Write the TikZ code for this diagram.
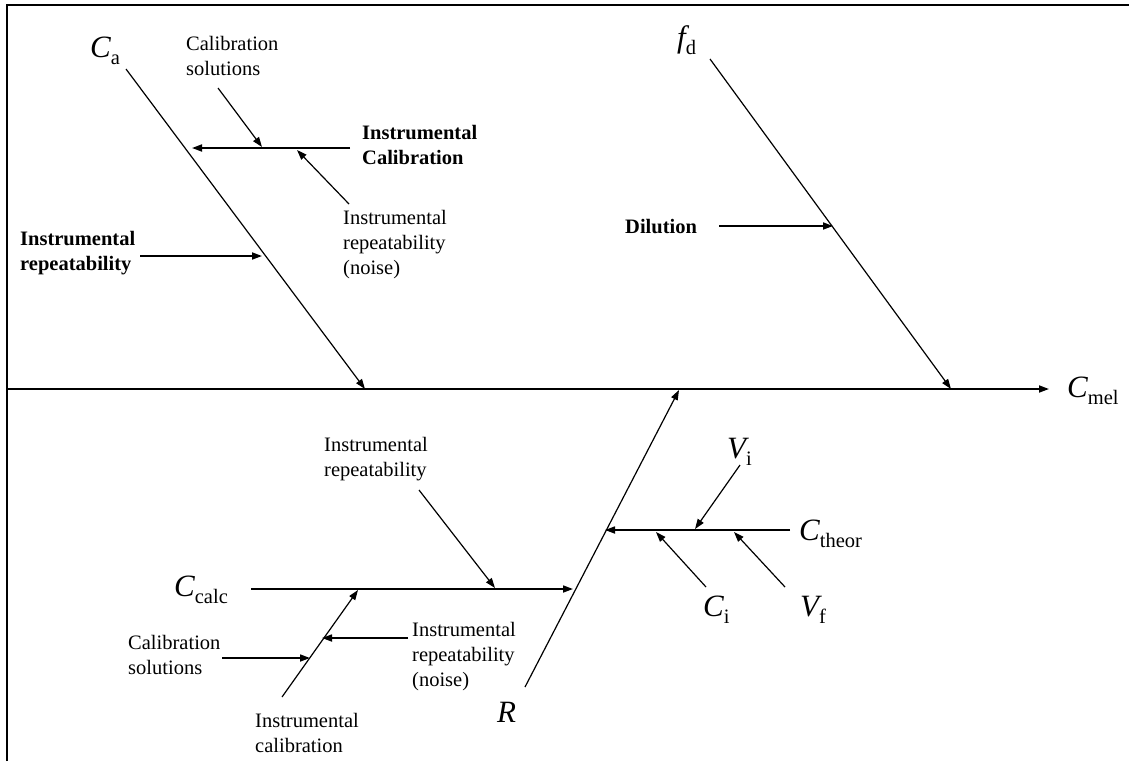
\documentclass[tikz,border=0pt]{standalone}
\usepackage{fontspec}
\setmainfont{Liberation Serif}
\usetikzlibrary{arrows.meta}
\newcommand{\msym}[2]{{\fontsize{31}{31}\selectfont\itshape #1}\raisebox{-7pt}{\fontsize{20.5}{20.5}\selectfont #2}}
\begin{document}
\begin{tikzpicture}[x=1pt,y=-1pt,
  lab/.style={font=\fontsize{20.5}{25}\selectfont, align=left, inner sep=0pt, anchor=west},
  blab/.style={lab, font=\fontsize{20.5}{25}\selectfont\bfseries},
  sym/.style={inner sep=0pt, anchor=base west},
  conn/.style={line width=1.2pt},
  arr/.style={conn, -{Triangle[length=10pt,width=7pt]}},
  harr/.style={arr, line width=1.7pt},
  hconn/.style={line width=1.7pt}]
\useasboundingbox (0,0) rectangle (1129,761);
\draw[line width=2pt] (6.7,761) -- (6.7,5) -- (1129,5);

% coordinates
\coordinate (mS) at (8,389); \coordinate (mE) at (1049,389);
\coordinate (caS) at (126,69); \coordinate (caE) at (365,389);
\coordinate (fdS) at (710,59); \coordinate (fdE) at (951,389);
\coordinate (rS) at (525,687); \coordinate (rE) at (679,390);
\coordinate (icS) at (350,148); \coordinate (icE) at (192,148);
\coordinate (csS) at (218,88); \coordinate (csE) at (262,147);
\coordinate (nS) at (349,204); \coordinate (nE) at (297,150);
\coordinate (irS) at (140,256); \coordinate (irE) at (262,256);
\coordinate (dS) at (719,226); \coordinate (dE) at (833,226);
\coordinate (ccS) at (251,589); \coordinate (ccE) at (573,589);
\coordinate (lirS) at (419,490); \coordinate (lirE) at (495,588);
\coordinate (licS) at (282,697); \coordinate (licE) at (358,590);
\coordinate (lnS) at (408,638); \coordinate (lnE) at (322,638);
\coordinate (lcsS) at (222,658); \coordinate (lcsE) at (310,658);
\coordinate (ctS) at (790,530); \coordinate (ctE) at (605,530);
\coordinate (viS) at (740,465); \coordinate (viE) at (695,529);
\coordinate (ciS) at (706,587); \coordinate (ciE) at (656,532);
\coordinate (vfS) at (785,587); \coordinate (vfE) at (734,532);

% labels
\node[sym] (Ca) at (90,57) {\msym{C}{a}};
\node[sym] (fd) at (677,47) {\msym{f}{d}};
\node[sym] (Cmel) at (1067,397) {\msym{C}{mel}};
\node[sym] (Ctheor) at (799,540) {\msym{C}{theor}};
\node[sym] (Vi) at (727,458) {\msym{V}{i}};
\node[sym] (Ci) at (703,616) {\msym{C}{i}};
\node[sym] (Vf) at (800,616) {\msym{V}{f}};
\node[sym] (Ccalc) at (174,596) {\msym{C}{calc}};
\node[sym] (R) at (497,722) {\fontsize{31}{31}\selectfont\itshape R};

\node[lab] (calsolT) at (186,56) {Calibration\\solutions};
\node[blab] (instcal) at (362,145) {Instrumental\\Calibration};
\node[lab] (noiseT) at (343,245) {Instrumental\\repeatability\\(noise)};
\node[blab] (instrep) at (20,253) {Instrumental\\repeatability};
\node[blab, anchor=base west] (dil) at (625,233) {Dilution};
\node[lab] (instrepL) at (324,459) {Instrumental\\repeatability};
\node[lab] (calsolL) at (128,655) {Calibration\\solutions};
\node[lab] (noiseL) at (412,657) {Instrumental\\repeatability\\(noise)};
\node[lab] (instcalL) at (255,733) {Instrumental\\calibration};

% connectors
\draw[harr] (mS) -- (mE);
\draw[arr] (caS) -- (caE);
\draw[arr] (fdS) -- (fdE);
\draw[arr] (rS) -- (rE);
\draw[harr] (icS) -- (icE);
\draw[arr] (csS) -- (csE);
\draw[arr] (nS) -- (nE);
\draw[harr] (irS) -- (irE);
\draw[harr] (dS) -- (dE);
\draw[harr] (ccS) -- (ccE);
\draw[arr] (lirS) -- (lirE);
\draw[arr] (licS) -- (licE);
\draw[harr] (lnS) -- (lnE);
\draw[harr] (lcsS) -- (lcsE);
\draw[harr] (ctS) -- (ctE);
\draw[arr] (viS) -- (viE);
\draw[arr] (ciS) -- (ciE);
\draw[arr] (vfS) -- (vfE);
\end{tikzpicture}
\end{document}
